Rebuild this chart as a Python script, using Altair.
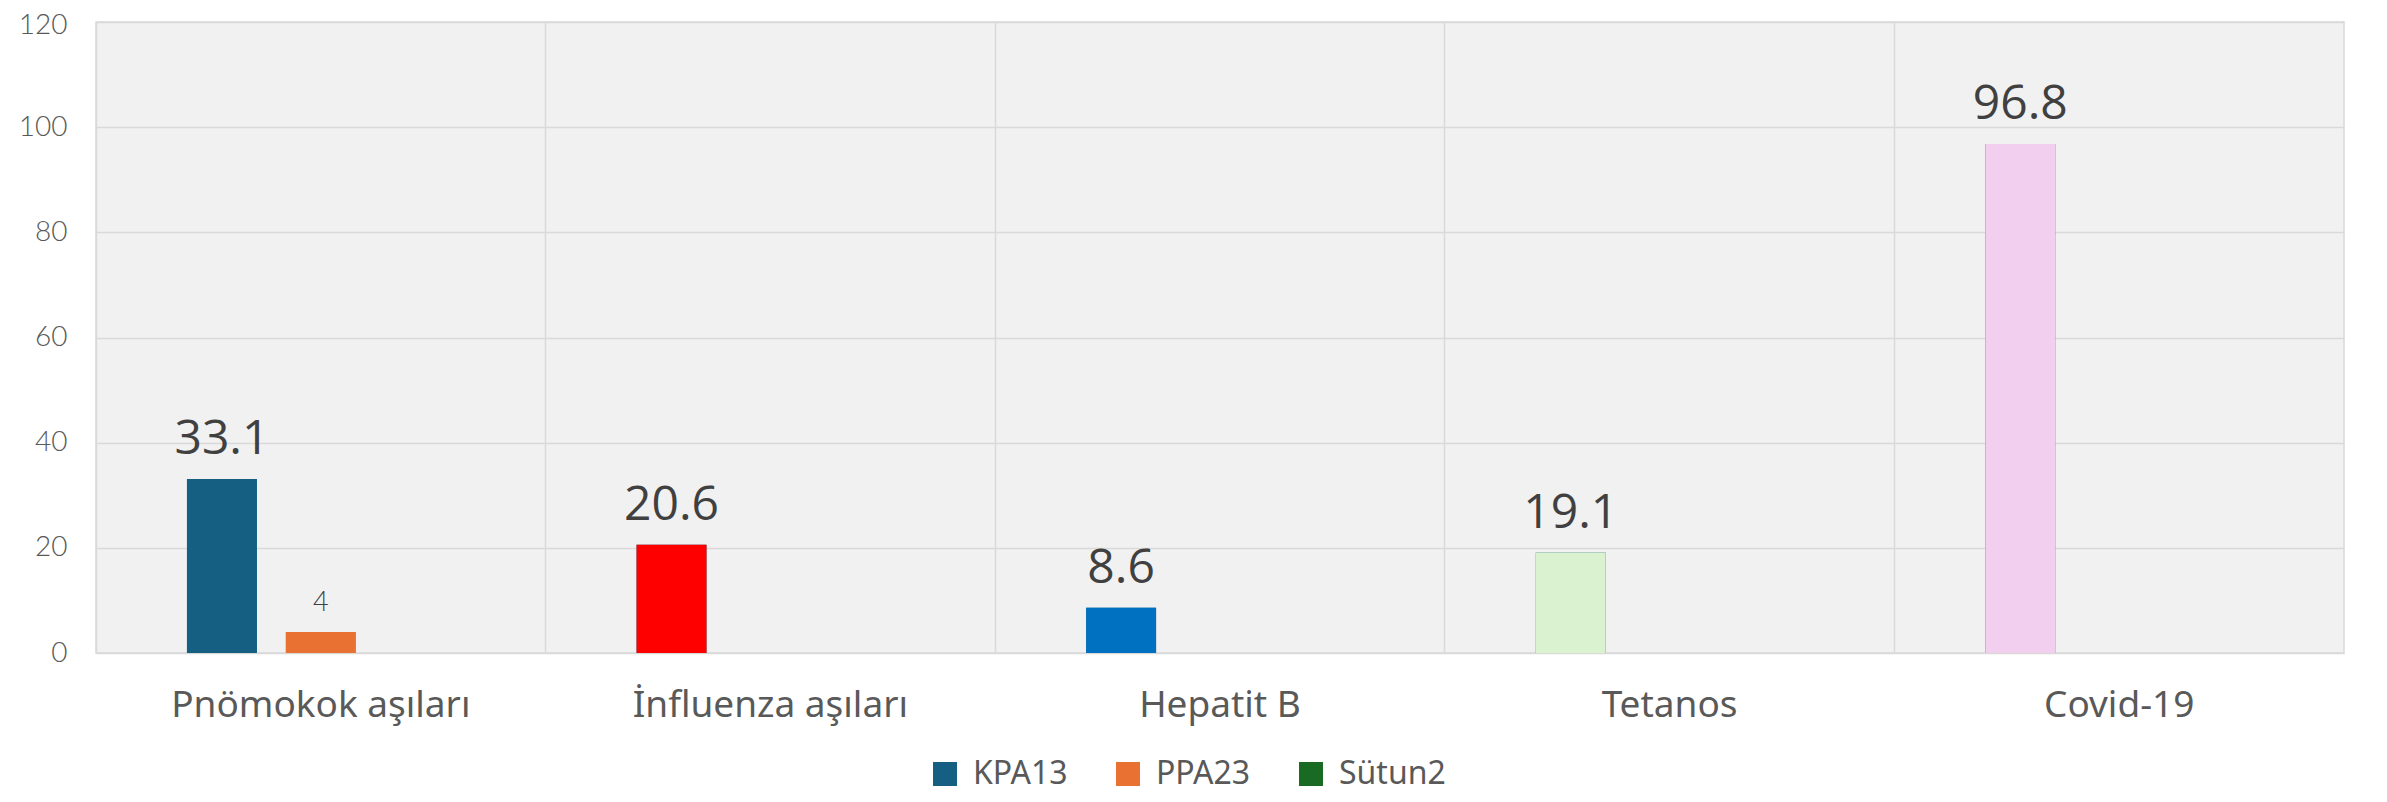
import altair as alt
import pandas as pd

categories = ["Pnömokok aşıları", "İnfluenza aşıları", "Hepatit B", "Tetanos", "Covid-19"]
series_names = ["KPA13", "PPA23", "Sütun2"]
kpa13 = [33.1, 20.6, 8.6, 19.1, 96.8]
ppa23 = [4, None, None, None, None]
sutun2 = [None, None, None, None, None]
kpa13_point_colors = ["#156082", "#FF0000", "#0070C0", "#DAF2D0", "#F2CEEF"]
series_colors = ["#156082", "#E97132", "#196B24"]
y_ticks = [0, 20, 40, 60, 80, 100, 120]

rows = []
for i, cat in enumerate(categories):
    for s, vals in zip(series_names, [kpa13, ppa23, sutun2]):
        if s == "KPA13":
            fill = kpa13_point_colors[i]
        else:
            fill = series_colors[series_names.index(s)]
        rows.append({"category": cat, "series": s, "value": vals[i], "fill": fill})
df = pd.DataFrame(rows)

x_enc = alt.X(
    "category:N",
    sort=categories,
    scale=alt.Scale(paddingInner=0, paddingOuter=0),
    axis=alt.Axis(
        title=None, labelAngle=0, domain=False, ticks=False, tickSize=0,
        grid=True, gridColor="#D9D9D9", gridWidth=1.5, bandPosition=0,
        labelFont="Noto Sans", labelFontSize=37, labelColor="#595959",
        labelPadding=34, labelLimit=1000,
    ),
)
xoff_enc = alt.XOffset(
    "series:N",
    sort=series_names,
    scale=alt.Scale(domain=series_names, paddingInner=0.293, paddingOuter=0.92),
)
y_enc = alt.Y(
    "value:Q",
    scale=alt.Scale(domain=[0, 120], nice=False),
    axis=alt.Axis(
        title=None, values=y_ticks, domain=False,
        ticks=False, tickSize=0, grid=True, gridColor="#D9D9D9", gridWidth=1.5,
        labelFont="Lato", labelFontWeight=300, labelFontSize=28,
        labelColor="#595959", labelPadding=29,
        labelOffset={"expr": "datum.value == 120 ? 3 : 0"},
    ),
)

base = alt.Chart(df)

bars_legend = base.mark_bar().encode(
    x=x_enc, xOffset=xoff_enc, y=y_enc,
    color=alt.Color(
        "series:N",
        scale=alt.Scale(domain=series_names, range=series_colors),
        legend=alt.Legend(
            title=None, orient="none", direction="horizontal", columns=3,
            legendX=833, legendY=736, padding=0, gridAlign="all",
            symbolType="square", symbolSize=576, symbolStrokeWidth=0,
            symbolOpacity=1, labelFont="Noto Sans", labelFontSize=32,
            labelColor="#595959", labelOffset=12, columnPadding=32,
            labelLimit=400,
        ),
    ),
)

bars_fill = base.mark_bar().encode(
    x=x_enc, xOffset=xoff_enc, y=y_enc,
    fill=alt.Fill("fill:N", scale=None),
)

labels_kpa = base.transform_filter(
    (alt.datum.series == "KPA13") & alt.expr.isValid(alt.datum.value)
).mark_text(
    font="Open Sans", fontSize=48, color="#404040", baseline="alphabetic", dy=-25
).encode(x=x_enc, xOffset=xoff_enc, y=y_enc, text=alt.Text("value:Q"))

labels_ppa = base.transform_filter(
    (alt.datum.series == "PPA23") & alt.expr.isValid(alt.datum.value)
).mark_text(
    font="Lato", fontWeight=300, fontSize=27, color="#404040",
    baseline="alphabetic", dy=-21
).encode(x=x_enc, xOffset=xoff_enc, y=y_enc, text=alt.Text("value:Q"))

chart = alt.layer(bars_legend, bars_fill, labels_kpa, labels_ppa).properties(
    width=2248,
    height=631,
    padding={"left": 88, "top": 14, "right": 27, "bottom": 141},
    autosize=alt.AutoSizeParams(type="none"),
).configure_view(
    stroke="#D9D9D9", strokeWidth=1.5, fill="#F1F1F1"
)

chart.save("out.html", embed_options={"renderer": "svg", "actions": False})
